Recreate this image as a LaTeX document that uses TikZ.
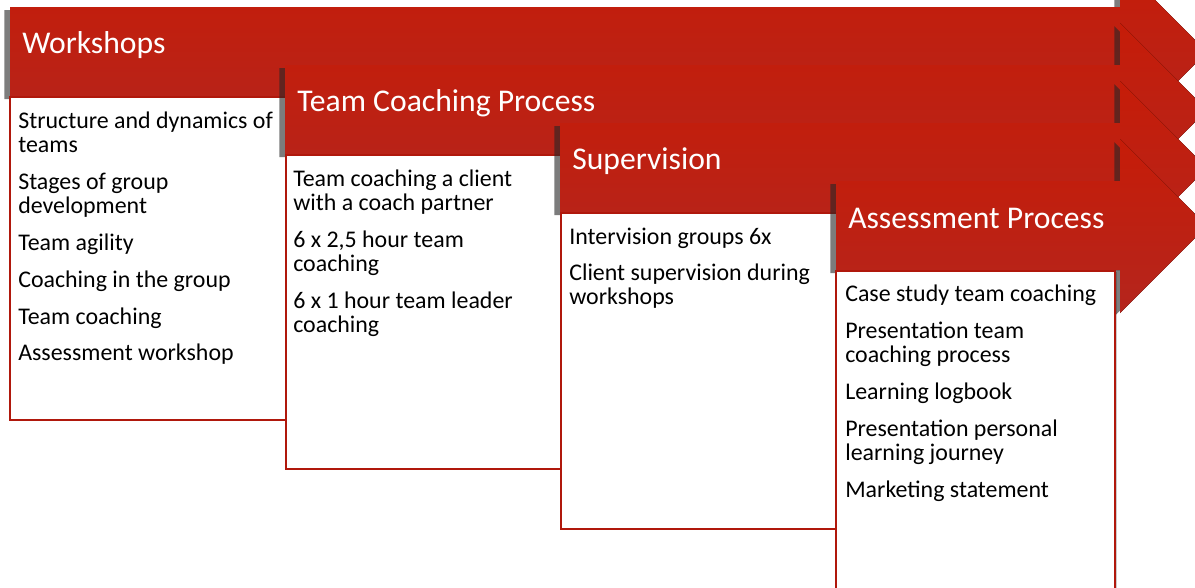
\documentclass[tikz,border=0pt]{standalone}
\usepackage{fontspec}
\setmainfont{Carlito}
\usetikzlibrary{shadows}
\definecolor{bandtop}{RGB}{198,28,8}
\definecolor{bandbot}{RGB}{180,37,29}
\definecolor{boxline}{RGB}{176,24,12}
\begin{document}
\begin{tikzpicture}[x=0.025cm,y=-0.025cm,
    band/.style={top color=bandtop,bottom color=bandbot,
      drop shadow={shadow xshift=-1.4mm,shadow yshift=-0.8mm,opacity=0.6,fill=black!85}},
    bandtitle/.style={anchor=base west,inner sep=0pt,text=white,
      font=\fontsize{22.5}{27}\selectfont},
    listbox/.style={draw=boxline,line width=1.7pt,fill=white,
      drop shadow={shadow xshift=0.5mm,shadow yshift=-0.3mm,opacity=0.2,fill=black}},
    listtext/.style={anchor=north west,inner sep=0pt,align=left,
      font=\fontsize{17}{17}\selectfont}]
  \clip (0,0) rectangle (1195,587);

  % Workshops
  \fill[band] (10,7) -- (1120,7) -- (1120,-35) -- (1207,52) -- (1120,139)
    -- (1120,96) -- (10,96) -- cycle;
  \node[bandtitle] (workshops) at (22,53) {Workshops};
  \draw[listbox] (10,97) rectangle (287,420);
  \node[listtext] (workshoplist) at (18,112) {Structure and dynamics of\\ teams\\[9.2pt]
    Stages of group\\ development\\[9.2pt] Team agility\\[9.2pt]
    Coaching in the group\\[9.2pt] Team coaching\\[9.2pt] Assessment workshop};

  % Team coaching process
  \fill[band] (285,65) -- (1120,65) -- (1120,23) -- (1207,110) -- (1120,197)
    -- (1120,154) -- (285,154) -- cycle;
  \node[bandtitle] (process) at (297,111) {Team Coaching Process};
  \draw[listbox] (286,155) rectangle (561,469);
  \node[listtext] (processlist) at (293,170) {Team coaching a client\\ with a coach partner\\[9.2pt]
    6 x 2,5 hour team\\ coaching\\[9.2pt] 6 x 1 hour team leader\\ coaching};

  % Supervision
  \fill[band] (560,123) -- (1120,123) -- (1120,81) -- (1207,168) -- (1120,255)
    -- (1120,212) -- (560,212) -- cycle;
  \node[bandtitle] (supervision) at (572,169) {Supervision};
  \draw[listbox] (561,213) rectangle (837,529);
  \node[listtext] (supervisionlist) at (569,228) {Intervision groups 6x\\[8.5pt]
    Client supervision during\\ workshops};

  % Assessment process
  \fill[band] (836,181) -- (1120,181) -- (1120,139) -- (1207,226) -- (1120,313)
    -- (1120,270) -- (836,270) -- cycle;
  \node[bandtitle] (assessment) at (848,228) {Assessment Process};
  \draw[listbox] (836,271) rectangle (1115,600);
  \node[listtext] (assessmentlist) at (845,285) {Case study team coaching\\[9.2pt]
    Presentation team\\ coaching process\\[9.2pt] Learning logbook\\[9.2pt]
    Presentation personal\\ learning journey\\[9.2pt] Marketing statement};
\end{tikzpicture}
\end{document}
